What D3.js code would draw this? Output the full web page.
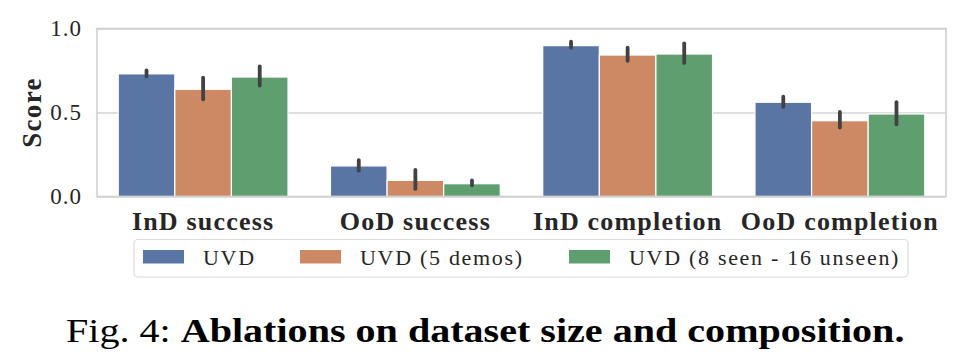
<!DOCTYPE html>
<html>
<head>
<meta charset="utf-8">
<script src="https://cdn.jsdelivr.net/npm/d3@7"></script>
<style>
  body { margin: 0; background: #fff; }
  svg { display: block; font-family: "Liberation Serif", serif; }
</style>
</head>
<body>
<div id="chart"></div>
<script>
// data
const categories = ["InD success", "OoD success", "InD completion", "OoD completion"]
const seriesNames = ["UVD", "UVD (5 demos)", "UVD (8 seen - 16 unseen)"]
const uvdMean = [0.73, 0.182, 0.898, 0.561]
const uvdLo   = [0.715, 0.154, 0.886, 0.533]
const uvdHi   = [0.75, 0.217, 0.921, 0.594]
const demosMean = [0.638, 0.096, 0.842, 0.451]
const demosLo   = [0.579, 0.045, 0.808, 0.41]
const demosHi   = [0.707, 0.158, 0.886, 0.503]
const unseenMean = [0.711, 0.076, 0.848, 0.491]
const unseenLo   = [0.66, 0.067, 0.795, 0.43]
const unseenHi   = [0.775, 0.096, 0.912, 0.561]
const yTicks = [0, 0.5, 1.0]
const colors = ["#5975a4", "#cc8963", "#5f9e6e"]

const seriesMeans = [uvdMean, demosMean, unseenMean]
const seriesLo = [uvdLo, demosLo, unseenLo]
const seriesHi = [uvdHi, demosHi, unseenHi]

const rows = []
categories.forEach((c, i) => {
  seriesNames.forEach((s, j) => {
    rows.push({ cat: c, series: s, mean: seriesMeans[j][i], lo: seriesLo[j][i], hi: seriesHi[j][i] })
  })
})

// dimensions
let dimensions = {
  width: 972,
  height: 364,
  margin: { top: 28.5, right: 26, bottom: 167.5, left: 97 },
}
dimensions.boundedWidth = dimensions.width - dimensions.margin.left - dimensions.margin.right
dimensions.boundedHeight = dimensions.height - dimensions.margin.top - dimensions.margin.bottom

const wrapper = d3.select("#chart")
  .append("svg")
    .attr("width", dimensions.width)
    .attr("height", dimensions.height)

const bounds = wrapper.append("g")
    .attr("transform", `translate(${dimensions.margin.left},${dimensions.margin.top})`)

// scales
const xScale = d3.scaleBand()
  .domain(categories)
  .range([0, dimensions.boundedWidth])

const subScale = d3.scaleBand()
  .domain(seriesNames)
  .range([xScale.bandwidth() * 0.1, xScale.bandwidth() * 0.9])

const yScale = d3.scaleLinear()
  .domain([0, 1])
  .range([dimensions.boundedHeight, 0])

const colorScale = d3.scaleOrdinal()
  .domain(seriesNames)
  .range(colors)

// grid
bounds.append("g")
  .call(d3.axisLeft(yScale).tickValues(yTicks).tickSize(-dimensions.boundedWidth).tickFormat(""))
  .call(g => g.select(".domain").remove())
  .call(g => g.selectAll("line").attr("stroke", "#d4d4d4").attr("stroke-width", 1.3))

// bars
bounds.selectAll(".bar")
  .data(rows)
  .enter().append("rect")
    .attr("class", "bar")
    .attr("x", d => xScale(d.cat) + subScale(d.series))
    .attr("y", d => yScale(d.mean))
    .attr("width", subScale.bandwidth())
    .attr("height", d => yScale(0) - yScale(d.mean))
    .attr("fill", d => colorScale(d.series))
    .attr("stroke", "#fff")
    .attr("stroke-width", 1.2)

// error bars
bounds.selectAll(".err")
  .data(rows)
  .enter().append("line")
    .attr("class", "err")
    .attr("x1", d => xScale(d.cat) + subScale(d.series) + subScale.bandwidth() / 2)
    .attr("x2", d => xScale(d.cat) + subScale(d.series) + subScale.bandwidth() / 2)
    .attr("y1", d => yScale(d.lo))
    .attr("y2", d => yScale(d.hi))
    .attr("stroke", "#424242")
    .attr("stroke-width", 3.8)
    .attr("stroke-linecap", "round")

// frame
bounds.append("rect")
  .attr("width", dimensions.boundedWidth)
  .attr("height", dimensions.boundedHeight)
  .attr("fill", "none")
  .attr("stroke", "#d0d0d0")
  .attr("stroke-width", 1.6)

// y axis
bounds.append("g")
  .call(d3.axisLeft(yScale).tickValues(yTicks).tickSize(0).tickPadding(15).tickFormat(d3.format(".1f")))
  .call(g => g.select(".domain").remove())
  .call(g => g.selectAll("text")
    .attr("font-family", "Liberation Serif, serif")
    .attr("font-size", 23)
    .attr("letter-spacing", 1)
    .attr("fill", "#262626"))

// x axis
bounds.append("g")
  .attr("transform", `translate(0,${dimensions.boundedHeight})`)
  .call(d3.axisBottom(xScale).tickSize(0))
  .call(g => g.select(".domain").remove())
  .call(g => g.selectAll("text")
    .attr("y", 33)
    .attr("dy", 0)
    .attr("font-family", "Liberation Serif, serif")
    .attr("font-size", 26)
    .attr("font-weight", "bold")
    .attr("letter-spacing", 1.2)
    .attr("fill", "#262626"))

// y label
wrapper.append("text")
  .attr("transform", `translate(41,${dimensions.margin.top + yScale(0.5)}) rotate(-90)`)
  .attr("text-anchor", "middle")
  .attr("font-size", 27)
  .attr("font-weight", "bold")
  .attr("letter-spacing", 1.3)
  .attr("fill", "#262626")
  .text("Score")

// legend
const legend = wrapper.append("g")
legend.append("rect")
  .attr("x", 134).attr("y", 239.5)
  .attr("width", 774).attr("height", 37.5)
  .attr("rx", 4)
  .attr("fill", "#fff")
  .attr("stroke", "#dcdcdc")
  .attr("stroke-width", 1.2)

const legendX = [143, 300, 569]
const items = legend.selectAll(".item")
  .data(seriesNames)
  .enter().append("g")
    .attr("transform", (d, i) => `translate(${legendX[i]},250)`)
items.append("rect")
  .attr("width", 41).attr("height", 13.5)
  .attr("fill", d => colorScale(d))
items.append("text")
  .attr("x", 60).attr("y", 14.5)
  .attr("font-size", 22)
  .attr("letter-spacing", 1.7)
  .attr("fill", "#262626")
  .text(d => d)

// caption
const caption = wrapper.append("text")
  .attr("transform", "translate(66,342) scale(1.215,1)")
  .attr("font-size", 33)
  .attr("fill", "#000")
caption.append("tspan").text("Fig. 4: ")
caption.append("tspan").attr("font-weight", "bold").text("Ablations on dataset size and composition.")
</script>
</body>
</html>
